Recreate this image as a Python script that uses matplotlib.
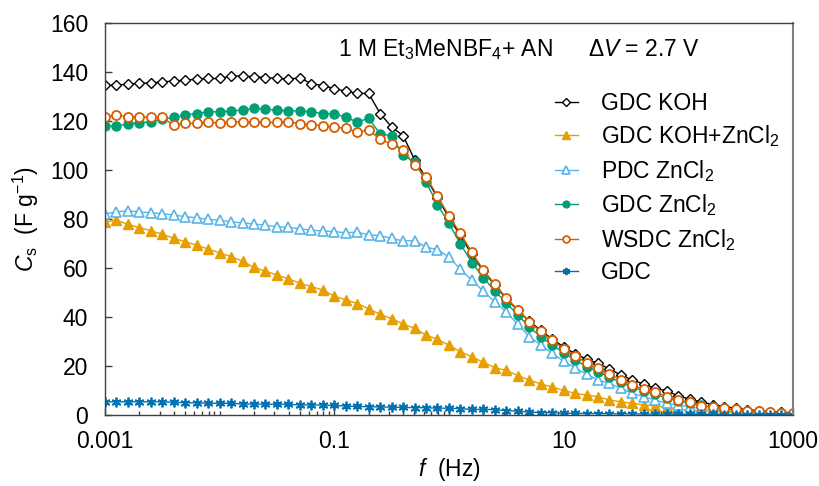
import numpy as np
import matplotlib
matplotlib.use("Agg")
import matplotlib.pyplot as plt
from matplotlib.ticker import FixedLocator, LogLocator, NullFormatter

plt.rcParams['font.family'] = ['Liberation Sans', 'DejaVu Sans']
plt.rcParams['mathtext.fontset'] = 'custom'
plt.rcParams['mathtext.rm'] = 'Liberation Sans'
plt.rcParams['mathtext.it'] = 'Liberation Sans:italic'

# frequency, 10 points per decade from 1 mHz to 1 kHz
freq = 10 ** (np.arange(61) / 10.0 - 3)

gdc_koh = [134.6, 134.6, 135.0, 135.3, 135.5, 135.9, 136.3, 136.6, 137.0, 137.3,
           137.3, 138.3, 138.3, 138.0, 137.7, 137.3, 137.1, 137.5, 135.2, 134.4,
           133.2, 132.1, 131.2, 131.2, 123.0, 117.5, 114.0, 104.2, 96.8, 88.7,
           80.5, 73.3, 65.5, 58.8, 53.0, 47.5, 42.8, 38.3, 34.6, 31.0,
           27.8, 25.0, 22.8, 21.1, 18.8, 16.3, 14.3, 12.6, 10.9, 9.9,
           7.8, 6.5, 5.3, 4.3, 3.4, 2.8, 2.2, 1.8, 1.4, 1.1, 0.8]
gdc_koh_zncl2 = [78.8, 79.5, 77.8, 76.5, 75.2, 73.8, 72.1, 70.7, 69.3, 67.7,
                 66.2, 64.6, 62.8, 60.2, 58.7, 57.1, 55.6, 53.8, 52.4, 51.0,
                 48.5, 47.0, 45.5, 43.3, 41.1, 39.3, 37.1, 35.4, 32.6, 30.9,
                 28.5, 25.8, 23.8, 21.5, 19.3, 18.2, 16.1, 14.3, 12.7, 11.4,
                 10.1, 8.8, 8.2, 7.5, 6.1, 5.4, 4.8, 4.1, 3.7, 3.1,
                 2.3, 2.0, 1.7, 1.4, 1.2, 1.0, 0.8, 0.7, 0.6, 0.5, 0.4]
pdc_zncl2 = [82.0, 82.9, 83.3, 82.9, 82.5, 82.2, 81.6, 80.9, 80.5, 79.8,
             79.5, 78.8, 78.4, 77.9, 77.5, 76.8, 76.6, 76.0, 75.4, 75.1,
             74.8, 74.4, 74.6, 73.5, 73.2, 72.1, 71.0, 71.2, 68.5, 67.5,
             64.5, 59.4, 55.0, 50.5, 46.2, 42.0, 37.0, 32.0, 28.6, 25.2,
             22.0, 19.2, 16.7, 14.3, 12.9, 10.9, 8.8, 7.5, 6.1, 4.8,
             4.1, 3.3, 2.6, 2.0, 1.6, 1.3, 1.0, 0.8, 0.6, 0.5, 0.4]
gdc_zncl2 = [117.9, 117.9, 118.7, 119.3, 119.6, 120.6, 121.4, 122.4, 123.0, 123.7,
             123.7, 124.1, 124.4, 125.1, 124.8, 124.4, 124.1, 124.1, 123.7, 123.0,
             123.0, 121.4, 119.6, 121.0, 114.7, 114.0, 106.0, 103.2, 95.2, 85.8,
             78.2, 69.8, 62.2, 56.0, 50.6, 45.8, 40.8, 36.0, 31.9, 28.6,
             25.4, 22.4, 19.8, 17.6, 15.4, 13.3, 11.4, 9.8, 8.4, 7.0,
             5.8, 4.8, 3.9, 3.1, 2.5, 2.0, 1.6, 1.3, 1.0, 0.8, 0.6]
wsdc_zncl2 = [121.4, 122.4, 121.7, 121.7, 121.4, 121.4, 118.3, 119.0, 119.0, 119.4,
              119.2, 119.6, 119.6, 119.6, 119.4, 119.4, 119.6, 118.9, 118.5, 118.0,
              117.5, 116.9, 115.5, 116.2, 112.5, 110.5, 108.2, 101.9, 97.2, 89.4,
              81.3, 74.1, 66.4, 59.2, 53.4, 47.8, 43.0, 38.0, 34.1, 30.6,
              27.0, 24.1, 21.3, 19.0, 16.7, 14.3, 12.2, 10.6, 9.5, 7.5,
              6.1, 5.4, 3.7, 3.4, 2.7, 2.3, 1.8, 1.6, 1.2, 0.9, 0.7]
gdc = [5.4, 5.4, 5.4, 5.4, 5.4, 5.4, 5.2, 5.0, 5.0, 4.8,
       4.8, 4.8, 4.5, 4.5, 4.4, 4.4, 4.4, 4.1, 4.1, 4.1,
       3.9, 3.7, 3.5, 3.4, 3.3, 3.2, 3.1, 3.0, 3.0, 2.8,
       2.8, 2.6, 2.3, 2.3, 2.2, 1.8, 1.6, 1.2, 1.0, 1.0,
       0.7, 0.7, 0.6, 0.6, 0.5, 0.5, 0.5, 0.4, 0.4, 0.4,
       0.3, 0.3, 0.3, 0.3, 0.2, 0.2, 0.2, 0.2, 0.2, 0.2, 0.2]

fs = 16.5

fig = plt.figure(figsize=(8.2, 4.86), dpi=100)
ax = fig.add_axes([0.128, 0.146, 0.839, 0.807])

ax.plot(freq, gdc_koh, color='black', lw=1.0, marker='D', ms=5,
        mfc='white', mec='black', mew=1.0, label='GDC KOH')
ax.plot(freq, gdc_koh_zncl2, color='#E69F00', lw=1.0, marker='^', ms=7,
        mfc='#E69F00', mec='#E69F00', label='GDC KOH+ZnCl$_2$')
ax.plot(freq, pdc_zncl2, color='#56B4E9', lw=1.0, marker='^', ms=7,
        mfc='white', mec='#56B4E9', mew=1.2, label='PDC ZnCl$_2$')
ax.plot(freq, gdc_zncl2, color='#009E73', lw=1.0, marker='o', ms=6.5,
        mfc='#009E73', mec='#009E73', label='GDC ZnCl$_2$')
ax.plot(freq, wsdc_zncl2, color='#D55E00', lw=1.0, marker='o', ms=6.5,
        mfc='white', mec='#D55E00', mew=1.3, label='WSDC ZnCl$_2$')
ax.plot(freq, gdc, color='#0072B2', lw=1.0, marker=(6, 2, 0), ms=7,
        mec='#0072B2', mew=1.3, label='GDC')

ax.set_xscale('log')
ax.set_xlim(0.001, 1000)
ax.set_ylim(0, 160)
ax.xaxis.set_major_locator(FixedLocator([0.001, 0.1, 10, 1000]))
ax.xaxis.set_minor_locator(LogLocator(base=10, subs=np.arange(1, 10), numticks=100))
ax.xaxis.set_minor_formatter(NullFormatter())
ax.set_xticklabels(['0.001', '0.1', '10', '1000'])
ax.set_yticks(np.arange(0, 161, 20))

ax.tick_params(which='major', direction='in', length=5, width=1, color='#404040',
               labelsize=fs, pad=11)
ax.tick_params(which='minor', direction='in', length=3, width=1, color='#404040')
ax.tick_params(axis='y', pad=12)
for s in ['left', 'bottom', 'top']:
    ax.spines[s].set_color('#404040')
    ax.spines[s].set_linewidth(1.0)
ax.spines['right'].set_color('#808080')
ax.spines['right'].set_linewidth(1.5)

ax.set_xlabel('$\\mathit{f}$  (Hz)', fontsize=fs, labelpad=2)
ax.set_ylabel('$\\mathit{C}_\\mathrm{s}$  (F g$^{-1}$)', fontsize=fs)
ax.yaxis.set_label_coords(-0.093, 0.5)

fig.text(338 / 820, 1 - 50 / 486, '1 M Et$_3$MeNBF$_4$+ AN', fontsize=fs,
         ha='left', va='center')
fig.text(588 / 820, 1 - 50 / 486, '$\\Delta\\mathit{V}$ = 2.7 V', fontsize=fs,
         ha='left', va='center')

ax.legend(loc='upper left', bbox_to_anchor=(555 / 820, 1 - 92 / 486),
          bbox_transform=fig.transFigure, frameon=False, fontsize=fs,
          handlelength=1.0, handletextpad=1.0, labelspacing=0.37,
          borderpad=0, borderaxespad=0, markerscale=0.75)

fig.savefig('out.png', dpi=100)
